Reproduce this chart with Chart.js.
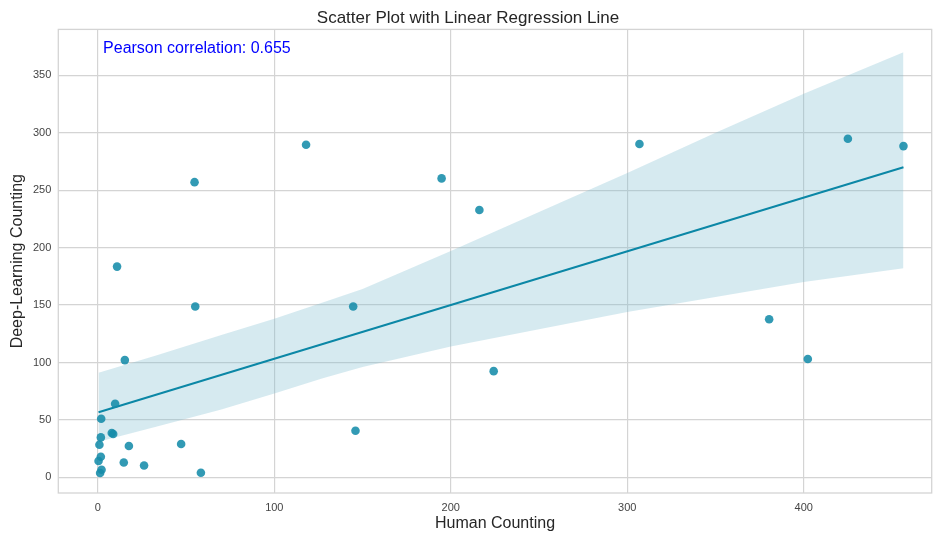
<!DOCTYPE html>
<html>
<head>
<meta charset="utf-8">
<script src="https://cdn.jsdelivr.net/npm/chart.js@4.4.0/dist/chart.umd.min.js"></script>
<style>
  html, body { margin: 0; padding: 0; background: #fff; }
  #wrap { width: 936px; height: 533px; }
</style>
</head>
<body>
<div id="wrap"><canvas id="chart"></canvas></div>
<script>
// human vs deep-learning counts
const humanCounts = [10.9, 54.8, 118, 194.8, 216.2, 306.9, 425, 456.5, 224.3, 380.4,
  402.3, 55.2, 144.7, 15.3, 9.8, 1.9, 1.7, 7.9, 8.7, 0.9,
  47.2, 17.6, 146, 1.7, 0.4, 14.7, 26.2, 2.1, 1.3, 58.4];
const dlCounts = [183.5, 257, 289.6, 260.3, 232.8, 290.2, 294.8, 288.4, 92.5, 137.7,
  103, 148.7, 148.7, 102.1, 64.1, 51, 34.8, 38.6, 37.7, 28.4,
  29, 27.3, 40.6, 18, 14.2, 13, 10.4, 6.7, 3.8, 4];

// regression line ends and confidence band edges
const fitX = [0.4, 456.5];
const fitY = [56.7, 270];
const bandX = [0.4, 33, 70, 100, 127, 150, 200, 250, 300, 350, 400, 456.5];
const bandUpper = [91, 106, 124, 138, 152, 164, 197, 231, 265, 300, 334, 370];
const bandLower = [31, 44, 59, 73, 86, 96, 114, 129, 144, 157, 170, 182];

const xTicks = [0, 100, 200, 300, 400];
const yTicks = [0, 50, 100, 150, 200, 250, 300, 350];
const pearson = 0.655;

const FONT = "'Liberation Sans', Arial, sans-serif";
const lineColor = '#0b87a6';
const gridColor = '#d4d4d4';

function pairs(xs, ys) {
  return xs.map((x, i) => ({ x: x, y: ys[i] }));
}

const framePlugin = {
  id: 'frame',
  beforeDatasetsDraw(chart) {
    const a = chart.chartArea;
    const ctx = chart.ctx;
    ctx.save();
    ctx.strokeStyle = gridColor;
    ctx.lineWidth = 1.3;
    ctx.strokeRect(a.left, a.top, a.right - a.left, a.bottom - a.top);
    ctx.restore();
  },
  afterDraw(chart) {
    const a = chart.chartArea;
    const ctx = chart.ctx;
    ctx.save();
    ctx.fillStyle = '#0000ff';
    ctx.font = '16px ' + FONT;
    ctx.textBaseline = 'alphabetic';
    ctx.fillText('Pearson correlation: ' + pearson.toFixed(3),
      a.left + 0.051 * 877.7, a.bottom - 0.95 * (a.bottom - a.top));
    ctx.restore();
  }
};

const ctx = document.getElementById('chart').getContext('2d');
new Chart(ctx, {
  type: 'scatter',
  data: {
    datasets: [
      {
        label: 'lower',
        data: pairs(bandX, bandLower),
        showLine: true,
        borderWidth: 0,
        borderColor: 'rgba(0,0,0,0)',
        pointRadius: 0,
        fill: false,
        order: 3,
      },
      {
        label: 'upper',
        data: pairs(bandX, bandUpper),
        showLine: true,
        borderWidth: 0,
        borderColor: 'rgba(0,0,0,0)',
        backgroundColor: 'rgba(120,185,205,0.3)',
        pointRadius: 0,
        fill: '-1',
        order: 2,
      },
      {
        label: 'fit',
        data: pairs(fitX, fitY),
        showLine: true,
        borderColor: lineColor,
        borderWidth: 2,
        pointRadius: 0,
        order: 1,
      },
      {
        label: 'points',
        data: pairs(humanCounts, dlCounts),
        backgroundColor: 'rgba(22,140,170,0.88)',
        borderWidth: 0,
        pointRadius: 4.3,
        order: 0,
      },
    ],
  },
  options: {
    responsive: true,
    maintainAspectRatio: false,
    animation: false,
    plugins: {
      legend: { display: false },
      tooltip: { enabled: false },
      title: {
        display: true,
        text: 'Scatter Plot with Linear Regression Line',
        color: '#262626',
        font: { family: FONT, size: 17, weight: 'normal' },
        padding: { top: 8, bottom: 1 },
      },
    },
    scales: {
      x: {
        type: 'linear',
        min: -22.4,
        max: 472.5,
        afterBuildTicks: (scale) => { scale.ticks = xTicks.map(v => ({ value: v })); },
        afterFit: (scale) => { scale.height = 40; },
        grid: { color: gridColor, lineWidth: 1.2, drawTicks: false },
        border: { display: false },
        ticks: {
          color: '#444',
          padding: 8,
          maxRotation: 0,
          font: { family: FONT, size: 11 },
        },
        title: {
          display: true,
          text: 'Human Counting',
          color: '#262626',
          font: { family: FONT, size: 16 },
          padding: { top: 0, bottom: 0 },
        },
      },
      y: {
        type: 'linear',
        min: -13.6,
        max: 390,
        afterBuildTicks: (scale) => { scale.ticks = yTicks.map(v => ({ value: v })); },
        afterFit: (scale) => { scale.width = 58.3; },
        grid: { color: gridColor, lineWidth: 1.2, drawTicks: false },
        border: { display: false },
        ticks: {
          color: '#444',
          padding: 7,
          font: { family: FONT, size: 11 },
        },
        title: {
          display: true,
          text: 'Deep-Learning Counting',
          color: '#262626',
          font: { family: FONT, size: 16 },
          padding: { top: 8, bottom: 0 },
        },
      },
    },
  },
  plugins: [framePlugin],
});
</script>
</body>
</html>
